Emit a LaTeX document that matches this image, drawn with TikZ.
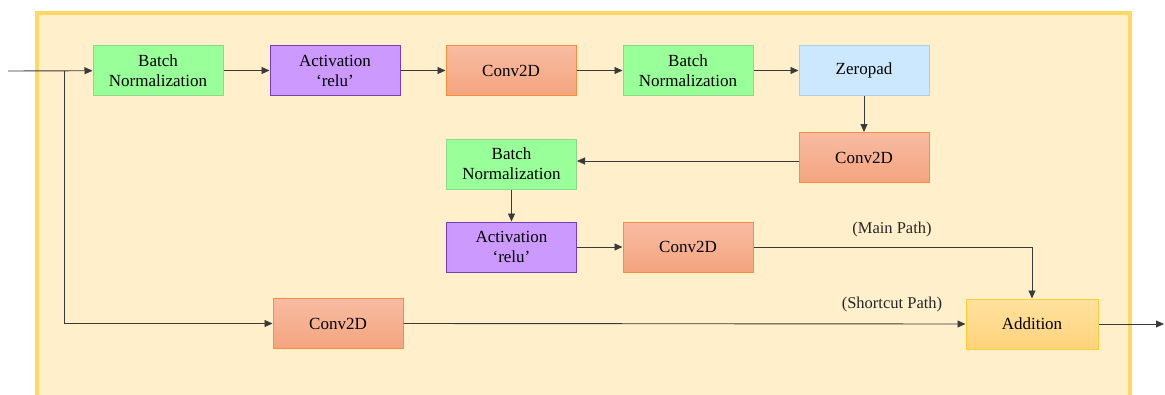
\documentclass[tikz,border=0pt]{standalone}
\usepackage{fontspec}
\setmainfont{Liberation Serif}
\newfontfamily\labelface{Liberation Serif}
\usetikzlibrary{arrows.meta}
\definecolor{panelfill}{HTML}{FFF0CB}
\definecolor{panelline}{HTML}{FFD966}
\definecolor{bnfill}{HTML}{99FF99}
\definecolor{bnline}{HTML}{8CD98C}
\definecolor{actfill}{HTML}{CC99FF}
\definecolor{actline}{HTML}{7A3DB8}
\definecolor{convtop}{HTML}{F8BCA2}
\definecolor{convbot}{HTML}{F4A47F}
\definecolor{convline}{HTML}{FA8C3C}
\definecolor{zpfill}{HTML}{CCE8FF}
\definecolor{zpline}{HTML}{A9CFEF}
\definecolor{addtop}{HTML}{FFE29E}
\definecolor{addbot}{HTML}{FFD27C}
\definecolor{addline}{HTML}{FFCC33}
\definecolor{wire}{HTML}{3A3A3A}
\begin{document}
\begin{tikzpicture}[x=1pt,y=-1pt,
  block/.style={rectangle, minimum width=130pt, minimum height=50pt, inner sep=0pt,
    align=center, font=\labelface\fontsize{17}{20}\selectfont, line width=1pt},
  bnbox/.style={block, fill=bnfill, draw=bnline},
  actbox/.style={block, fill=actfill, draw=actline},
  convbox/.style={block, top color=convtop, bottom color=convbot, draw=convline},
  zpbox/.style={block, fill=zpfill, draw=zpline},
  addbox/.style={block, top color=addtop, bottom color=addbot, draw=addline, minimum width=132pt},
  flow/.style={draw=wire, line width=0.9pt, -{Triangle[length=8pt,width=7pt]}},
  pathlabel/.style={font=\labelface\fontsize{16.5}{20}\selectfont, text=black!85}
]
\useasboundingbox (0,0) rectangle (1165,394);
% panel
\fill[panelfill] (37,13) rectangle (1130,400);
\draw[panelline, line width=3.5pt] (37,400) -- (37,13) -- (1130,13) -- (1130,400);

% top row
\node[bnbox]  (bn1)  at (158,70.5) {Batch\\Normalization};
\node[actbox] (act1) at (335,70.5) {Activation\\‘relu’};
\node[convbox](cv1)  at (511,70.5) {Conv2D};
\node[bnbox]  (bn2)  at (688,70.5) {Batch\\Normalization};
\node[zpbox]  (zp)   at (864,70.5) {Zeropad};
% middle rows
\node[convbox](cv2)  at (864,157.5) {Conv2D};
\node[bnbox]  (bn3)  at (511.5,164) {Batch\\Normalization};
\node[actbox] (act2) at (511.5,247) {Activation\\‘relu’};
\node[convbox](cv3)  at (688,247) {Conv2D};
% bottom row
\node[convbox](cvs)  at (338,323.5) {Conv2D};
\node[addbox] (add)  at (1032,324) {Addition};

\coordinate (in) at (8,71);
\coordinate (split) at (64,71);
\coordinate (out) at (1164,324);

% main path
\draw[flow] (in) -- (bn1);
\draw[flow] (bn1) -- (act1);
\draw[flow] (act1) -- (cv1);
\draw[flow] (cv1) -- (bn2);
\draw[flow] (bn2) -- (zp);
\draw[flow] (zp) -- (cv2);
\draw[flow] (cv2.west |- 0,161) -- (bn3.east |- 0,161);
\draw[flow] (bn3) -- (act2);
\draw[flow] (act2) -- (cv3);
\draw[flow] (cv3.east) -| (add.north);
\node[pathlabel] (mainlbl) at (892,230) {(Main Path)};
% shortcut
\draw[flow] (split) |- (cvs.west);
\draw[flow] (cvs.east) -- (add.west);
\node[pathlabel] (shortlbl) at (892,305) {(Shortcut Path)};
\draw[flow] (add) -- (out);
\end{tikzpicture}
\end{document}
